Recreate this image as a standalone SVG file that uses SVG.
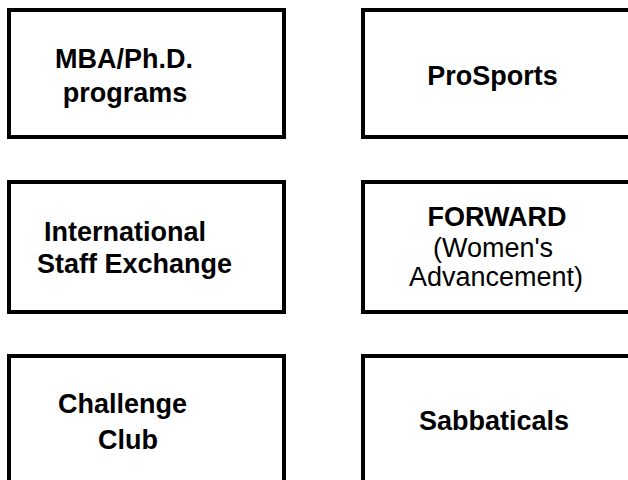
<svg xmlns="http://www.w3.org/2000/svg" width="628" height="480" viewBox="0 0 628 480">
<style>
.box{fill:#fff;stroke:#000;stroke-width:4}
.t{font-family:"Liberation Sans",Arial,sans-serif;font-size:27px;fill:#000;text-anchor:middle}
.b{font-weight:bold}
</style>
<rect width="628" height="480" fill="#fff"/>
<g id="mba">
<rect class="box" x="9" y="10" width="275" height="127"/>
<text class="t b" x="124" y="68">MBA/Ph.D.</text>
<text class="t b" x="125" y="102">programs</text>
</g>
<g id="prosports">
<rect class="box" x="363" y="10" width="285" height="127"/>
<text class="t b" x="492.5" y="85">ProSports</text>
</g>
<g id="international">
<rect class="box" x="9" y="182" width="275" height="130"/>
<text class="t b" x="125" y="241">International</text>
<text class="t b" x="134.5" y="273">Staff Exchange</text>
</g>
<g id="forward">
<rect class="box" x="363" y="182" width="285" height="130"/>
<text class="t b" x="497" y="226">FORWARD</text>
<text class="t" x="493" y="257">(Women's</text>
<text class="t" x="496" y="286">Advancement)</text>
</g>
<g id="challenge">
<rect class="box" x="9" y="356" width="275" height="150"/>
<text class="t b" x="122.5" y="413">Challenge</text>
<text class="t b" x="128" y="449">Club</text>
</g>
<g id="sabbaticals">
<rect class="box" x="363" y="356" width="285" height="150"/>
<text class="t b" x="494" y="430">Sabbaticals</text>
</g>
<g id="connectors"></g>
</svg>
